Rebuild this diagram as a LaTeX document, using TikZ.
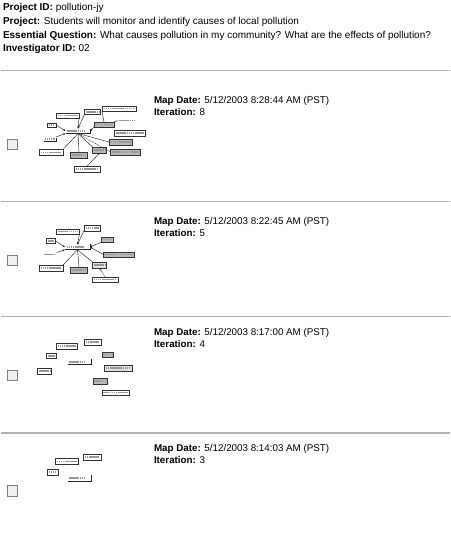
\documentclass[tikz,border=0pt]{standalone}
\usepackage{fontspec}
\setmainfont{Liberation Sans}
\usetikzlibrary{arrows.meta,shadows}
\begin{document}
\begin{tikzpicture}[x=1pt,y=-1pt,
  txt/.style={anchor=base west,inner sep=0pt,outer sep=0pt,font=\fontsize{10}{12}\selectfont},
  txs/.style={txt,font=\fontsize{9.8}{12}\selectfont},
  rulel/.style={draw=black!30,line width=1.6pt},
  chk/.style={draw=black!50,fill=black!6,line width=0.8pt},
  cbox/.style={draw=black!80,fill=white,line width=0.35pt,inner sep=0pt,outer sep=0pt,
    drop shadow={shadow xshift=0.7pt,shadow yshift=-0.7pt,fill=black!85,opacity=1},
    path picture={\draw[black!40,line width=1.1pt,dash pattern=on 1.6pt off 0.5pt]
      ([xshift=1.5pt]path picture bounding box.west) -- ([xshift=-1.5pt]path picture bounding box.east);}},
  gbox/.style={cbox,fill=black!28},
  cen/.style={inner sep=0pt,outer sep=0pt,
    path picture={\draw[black!40,line width=1.1pt,dash pattern=on 1.6pt off 0.5pt]
      ([xshift=1.5pt]path picture bounding box.west) -- ([xshift=-6pt]path picture bounding box.east);}},
  cenedge/.style={draw=black!85,line width=0.6pt},
  lk/.style={draw=black!85,line width=0.45pt},
  ar/.style={lk,-{Stealth[length=2.4pt,width=2pt]}}
]
\useasboundingbox (0,0) rectangle (450,538);
\fill[white] (0,0) rectangle (450,538);

% header
\node[txt] (h1) at (3,10) {\textbf{Project ID:} pollution-jy};
\node[txt] (h2) at (3,24) {\textbf{Project:} Students will monitor and identify causes of local pollution};
\node[txt] (h3) at (3,38) {\textbf{Essential Question:} What causes pollution in my community? What are the effects of pollution?};
\node[txt] (h4) at (3,51.5) {\textbf{Investigator ID:} 02};

% rules
\coordinate (r1a) at (1,70.5); \coordinate (r1b) at (450,70.5);
\coordinate (r2a) at (1,201.5); \coordinate (r2b) at (450,201.5);
\coordinate (r3a) at (1,316.5); \coordinate (r3b) at (450,316.5);
\coordinate (r4a) at (1,433); \coordinate (r4b) at (450,433);
\draw[rulel] (r1a) -- (r1b);
\draw[rulel] (r2a) -- (r2b);
\draw[rulel] (r3a) -- (r3b);
\draw[rulel] (r4a) -- (r4b);

% section texts
\node[txs] (d1) at (154,103.5) {\textbf{Map Date:} 5/12/2003 8:28:44 AM (PST)};
\node[txs] (i1) at (154,115.5) {\textbf{Iteration:} 8};
\node[txs] (d2) at (154,224) {\textbf{Map Date:} 5/12/2003 8:22:45 AM (PST)};
\node[txs] (i2) at (154,236) {\textbf{Iteration:} 5};
\node[txs] (d3) at (154,335) {\textbf{Map Date:} 5/12/2003 8:17:00 AM (PST)};
\node[txs] (i3) at (154,347) {\textbf{Iteration:} 4};
\node[txs] (d4) at (154,451.5) {\textbf{Map Date:} 5/12/2003 8:14:03 AM (PST)};
\node[txs] (i4) at (154,463.5) {\textbf{Iteration:} 3};

% checkboxes
\draw[chk] (7,139) rectangle (17,149.5);
\draw[chk] (7,255) rectangle (17,265.5);
\draw[chk] (7,370) rectangle (17,380.5);
\draw[chk] (7,485.5) rectangle (17,496);

% ---------- thumbnail 1 ----------
\node[cen,minimum width=25pt,minimum height=5pt] (Ac) at (78,131) {};
\node[cbox,minimum width=23pt,minimum height=5pt] (Aa) at (67.5,115.5) {};
\node[cbox,minimum width=16pt,minimum height=5pt] (Ab) at (92.5,112) {};
\node[cbox,minimum width=34pt,minimum height=5pt,line width=0.6pt] (Ad3) at (119,108.5) {};
\node[gbox,minimum width=20pt,minimum height=5pt] (Ad) at (104,124.5) {};
\node[cbox,draw=none,drop shadow={opacity=0},minimum width=19pt,minimum height=4pt] (Ae) at (127,120.5) {};
\node[cbox,minimum width=31pt,minimum height=5.5pt] (Af) at (130,133) {};
\node[cbox,minimum width=9pt,minimum height=4.5pt] (Ag) at (51.5,125) {};
\node[cbox,draw=none,drop shadow={opacity=0},minimum width=13pt,minimum height=4pt] (Ah) at (49.5,139) {};
\node[gbox,minimum width=23pt,minimum height=5.5pt] (Ai) at (120.5,142) {};
\node[gbox,minimum width=30pt,minimum height=5.5pt] (Aj) at (125.5,152) {};
\node[cbox,minimum width=24pt,minimum height=6pt] (Ak) at (51,152.5) {};
\node[gbox,minimum width=17pt,minimum height=6pt] (Al) at (79,155) {};
\node[gbox,minimum width=14pt,minimum height=6pt] (Am) at (99.5,150) {};
\node[cbox,minimum width=26pt,minimum height=5.5pt] (An) at (87,169) {};
\draw[cenedge] (Ac.south west) -- (Ac.south east) -- (Ac.north east);
\draw[ar] (Aa.south east) -- (Ac.north);
\draw[ar] (Ab.south west) -- (Ac.north);
\draw[ar] (Ag.east) -- (Ac.west);
\draw[ar] (Ah.north east) -- (Ac.south west);
\draw[lk] (Ak.north east) -- (Ac.south);
\draw[lk] (Ac.south) -- (Al.north);
\draw[lk] (Ac.south) -- (Am.north west);
\draw[lk,dashed,dash pattern=on 1pt off 0.8pt] (Ac.south) -- (Aj.west);
\draw[lk] (Ac.south) -- (Ai.west);
\draw[ar] (Ad.south west) -- (Ac.east);
\draw[lk] (Ae.west) -- (Ad.north east);
\draw[lk] (Ad3.south west) -- (Ad.north);
\draw[ar] (An.north) -- (Am.south);

% ---------- thumbnail 2 ----------
\node[cen,minimum width=25pt,minimum height=5.5pt] (Bc) at (77.5,247) {};
\node[cbox,minimum width=23pt,minimum height=5pt] (Ba) at (68,231.5) {};
\node[cbox,minimum width=16pt,minimum height=5.5pt] (Bb) at (92,228) {};
\node[cbox,minimum width=9pt,minimum height=5pt] (Bg) at (51,241) {};
\node[cbox,draw=none,drop shadow={opacity=0},minimum width=14pt,minimum height=4pt] (Bh) at (49.5,254.5) {};
\node[gbox,minimum width=12pt,minimum height=5.5pt] (Bd) at (107,239.5) {};
\node[gbox,minimum width=31pt,minimum height=5.5pt] (Bf) at (119,254.5) {};
\node[cbox,minimum width=24pt,minimum height=6pt] (Bk) at (51,268) {};
\node[gbox,minimum width=17pt,minimum height=6pt] (Bl) at (79,270) {};
\node[cbox,fill=black!12,minimum width=14pt,minimum height=6pt] (Bm) at (99.5,265) {};
\node[cbox,minimum width=26pt,minimum height=5.5pt] (Bn) at (105,279.5) {};
\draw[cenedge] (Bc.south west) -- (Bc.south east) -- (Bc.north east);
\draw[ar] (Ba.south east) -- (Bc.north);
\draw[ar] (Bb.south west) -- (Bc.north);
\draw[ar] (Bg.east) -- (Bc.west);
\draw[ar] (Bh.north east) -- (Bc.south west);
\draw[lk] (Bk.north east) -- (Bc.south);
\draw[lk] (Bc.south) -- (Bl.north);
\draw[lk] (Bc.south) -- (Bm.north west);
\draw[ar] (Bd.south west) -- (Bc.east);
\draw[ar] (Bf.west) -- (Bc.east);
\draw[ar,dashed,dash pattern=on 1pt off 0.8pt] (Bn.north) -- (Bm.south);

% ---------- thumbnail 3 ----------
\node[cen,minimum width=24pt,minimum height=5.5pt] (Cc) at (79.5,362) {};
\node[cbox,minimum width=21pt,minimum height=5.5pt] (Ca) at (66.5,346) {};
\node[cbox,minimum width=16.5pt,minimum height=5.5pt] (Cb) at (92.5,342) {};
\node[cbox,minimum width=10pt,minimum height=5pt] (Cg) at (51.5,356) {};
\node[cbox,minimum width=14pt,minimum height=5.5pt] (Ch) at (44.5,371) {};
\node[gbox,minimum width=11.5pt,minimum height=5.5pt] (Cd) at (107.5,354.5) {};
\node[gbox,fill=black!12,minimum width=27.5pt,minimum height=5.5pt] (Cf) at (118,368) {};
\node[gbox,minimum width=14.5pt,minimum height=5.5pt] (Cm) at (100,381) {};
\node[cbox,minimum width=27.5pt,minimum height=5pt] (Cn) at (115.5,392.5) {};
\draw[cenedge] (Cc.south west) -- (Cc.south east) -- (Cc.north east);

% ---------- thumbnail 4 ----------
\node[cen,minimum width=24pt,minimum height=6pt] (Dc) at (79.5,478) {};
\node[cbox,minimum width=23pt,minimum height=6pt] (Da) at (66.5,461.5) {};
\node[cbox,minimum width=17.5pt,minimum height=5.5pt] (Db) at (92,457) {};
\node[cbox,minimum width=11pt,minimum height=5.5pt] (Dg) at (52.5,472) {};
\draw[cenedge] (Dc.south west) -- (Dc.south east) -- (Dc.north east);
\end{tikzpicture}
\end{document}
